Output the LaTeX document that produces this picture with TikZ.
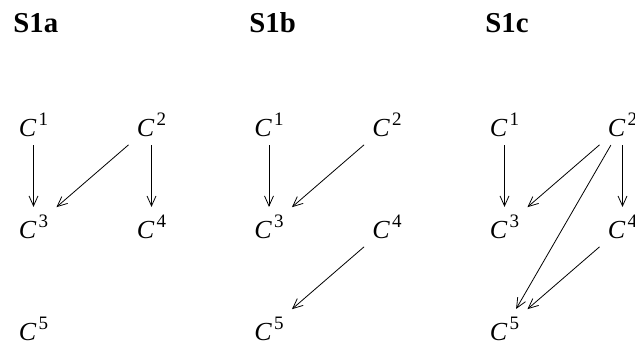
\documentclass[tikz,border=0pt]{standalone}
\usepackage{fontspec}
\setmainfont{Liberation Serif}
\usetikzlibrary{arrows.meta,positioning}
\newcommand{\cvar}[1]{\textit{C}\kern1pt\raisebox{5.3pt}{\fontsize{9.5}{10}\selectfont#1}}
\tikzset{
  cvnode/.style={
    font=\fontsize{13}{15}\selectfont,
    inner sep=4pt
  },
  cvtitle/.style={
    font=\fontsize{14.4}{17}\selectfont\bfseries,
    anchor=base west,
    inner sep=0pt
  },
  cvarrow/.style={-{Straight Barb[length=5pt,width=4.5pt]},thin}
}

\begin{document}
\begin{tikzpicture}[x=0.5pt,y=0.5pt,node distance=51pt and 59pt,on grid]
  \useasboundingbox (0,0) rectangle (635,351);
  % S1a
  \node[cvtitle] (ta) at (13,318) {S1a};
  \node[cvnode] (a1) at (33.5,226) {\cvar{1}};
  \node[cvnode,right=of a1] (a2) {\cvar{2}};
  \node[cvnode,below=of a1] (a3) {\cvar{3}};
  \node[cvnode,below=of a2] (a4) {\cvar{4}};
  \node[cvnode,below=of a3] (a5) {\cvar{5}};
  \draw[cvarrow] (a1) -- (a3);
  \draw[cvarrow] (a2) -- (a3);
  \draw[cvarrow] (a2) -- (a4);
  % S1b
  \node[cvtitle] (tb) at (249,318) {S1b};
  \node[cvnode] (b1) at (269,226) {\cvar{1}};
  \node[cvnode,right=of b1] (b2) {\cvar{2}};
  \node[cvnode,below=of b1] (b3) {\cvar{3}};
  \node[cvnode,below=of b2] (b4) {\cvar{4}};
  \node[cvnode,below=of b3] (b5) {\cvar{5}};
  \draw[cvarrow] (b1) -- (b3);
  \draw[cvarrow] (b2) -- (b3);
  \draw[cvarrow] (b4) -- (b5);
  % S1c
  \node[cvtitle] (tc) at (485,318) {S1c};
  \node[cvnode] (c1) at (504.5,226) {\cvar{1}};
  \node[cvnode,right=of c1] (c2) {\cvar{2}};
  \node[cvnode,below=of c1] (c3) {\cvar{3}};
  \node[cvnode,below=of c2] (c4) {\cvar{4}};
  \node[cvnode,below=of c3] (c5) {\cvar{5}};
  \draw[cvarrow] (c1) -- (c3);
  \draw[cvarrow] (c2) -- (c3);
  \draw[cvarrow] (c2) -- (c4);
  \draw[cvarrow] (c2) -- (c5);
  \draw[cvarrow] (c4) -- (c5);
\end{tikzpicture}
\end{document}
